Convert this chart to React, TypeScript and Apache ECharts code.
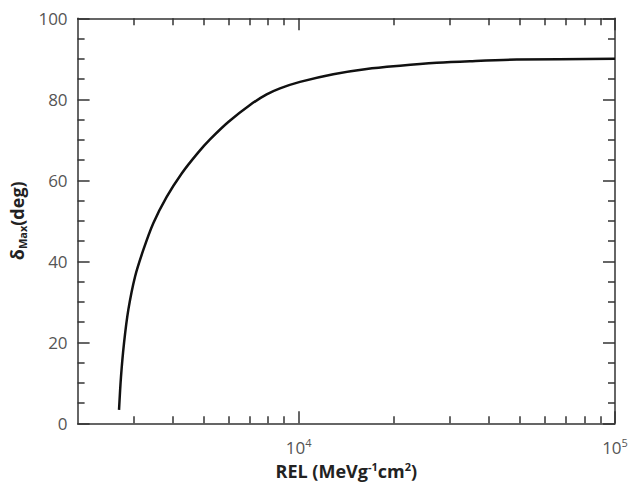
import React, { useEffect, useRef } from "react";
import * as echarts from "echarts";

const relValues = [2704, 2743, 2804, 2893, 3038, 3227, 3470, 3825, 4267, 4815, 5244, 5990, 7015, 7920, 8727, 10095, 12861, 16406, 20910, 27310, 34800, 48900, 100000];
const deltaMax = [3.3, 11.5, 19.8, 28.0, 36.2, 42.8, 49.4, 55.9, 61.7, 66.9, 70.1, 74.4, 78.6, 81.2, 82.7, 84.3, 86.2, 87.5, 88.3, 89.0, 89.4, 89.8, 90.0];

const xMajorTicks = [10000, 100000];
const xMinorTicks = [3000, 4000, 5000, 6000, 7000, 8000, 9000, 20000, 30000, 40000, 50000, 60000, 70000, 80000, 90000];

const FONT = "Open Sans";
const FRAME = "#333";

export default function App() {
  const ref = useRef<HTMLDivElement>(null);
  useEffect(() => {
    if (!ref.current) return;
    const chart = echarts.init(ref.current, null, { renderer: "svg" });

    const baseX = (position: string, major: boolean, labels: boolean) => ({
      type: "log",
      logBase: 10,
      position,
      min: 2000,
      max: 100000,
      axisLine: { show: major, lineStyle: { color: FRAME, width: 1.5 } },
      axisTick: {
        show: true,
        inside: true,
        length: major ? 12 : 7,
        customValues: major ? xMajorTicks : xMinorTicks,
        lineStyle: { color: FRAME, width: 1.5 },
      },
      axisLabel: labels
        ? {
            show: true,
            margin: 14,
            customValues: xMajorTicks,
            formatter: (v: number) => `{a|10}{b|${Math.round(Math.log10(v))}}`,
            rich: {
              a: { fontFamily: FONT, fontSize: 17, color: "#555", lineHeight: 20 },
              b: { fontFamily: FONT, fontSize: 11, color: "#555", lineHeight: 12, verticalAlign: "top" },
            },
          }
        : { show: false },
      splitLine: { show: false },
      minorTick: { show: false },
      minorSplitLine: { show: false },
      name: position === "bottom" && major ? "{t|REL (MeVg}{s|-1}{t|cm}{s|2}{t|)}" : "",
      nameLocation: "middle",
      nameGap: 33,
      nameTextStyle: {
        rich: {
          t: { fontFamily: FONT, fontSize: 18, fontWeight: "bold", color: "#222", lineHeight: 20 },
          s: { fontFamily: FONT, fontSize: 11, fontWeight: "bold", color: "#222", lineHeight: 13, verticalAlign: "top" },
        },
      },
    });

    const baseY = (position: string, labels: boolean) => ({
      type: "value",
      position,
      min: 0,
      max: 100,
      interval: 20,
      axisLine: { show: true, lineStyle: { color: FRAME, width: 1.5 } },
      axisTick: { show: true, inside: true, length: 12, lineStyle: { color: FRAME, width: 1.5 } },
      minorTick: { show: true, splitNumber: 4, length: 7, lineStyle: { color: FRAME, width: 1.5 } },
      axisLabel: labels
        ? { show: true, margin: 10, fontFamily: FONT, fontSize: 17, color: "#555" }
        : { show: false },
      splitLine: { show: false },
      minorSplitLine: { show: false },
      name: labels ? "{t|δ}{s|Max}{t|(deg)}" : "",
      nameLocation: "middle",
      nameGap: 47,
      nameRotate: 90,
      nameTextStyle: {
        rich: {
          t: { fontFamily: FONT, fontSize: 18, fontWeight: "bold", color: "#222", lineHeight: 22 },
          s: { fontFamily: FONT, fontSize: 11, fontWeight: "bold", color: "#222", lineHeight: 13, verticalAlign: "bottom" },
        },
      },
    });

    chart.setOption({
      animation: false,
      backgroundColor: "#fff",
      grid: { left: 77.6, right: 15, top: 18.3, bottom: 58.7, containLabel: false, outerBoundsMode: "none" },
      xAxis: [
        baseX("bottom", true, true),
        baseX("bottom", false, false),
        baseX("top", true, false),
        baseX("top", false, false),
      ],
      yAxis: [baseY("left", true), baseY("right", false)],
      series: [
        {
          type: "line",
          xAxisIndex: 0,
          yAxisIndex: 0,
          data: relValues.map((r, i) => [r, deltaMax[i]]),
          showSymbol: false,
          smooth: 0.3,
          lineStyle: { color: "#111", width: 2.5 },
        },
      ],
    });
    return () => chart.dispose();
  }, []);
  return <div ref={ref} style={{ width: 630, height: 482, position: "absolute", left: 0, top: 0 }} />;
}
